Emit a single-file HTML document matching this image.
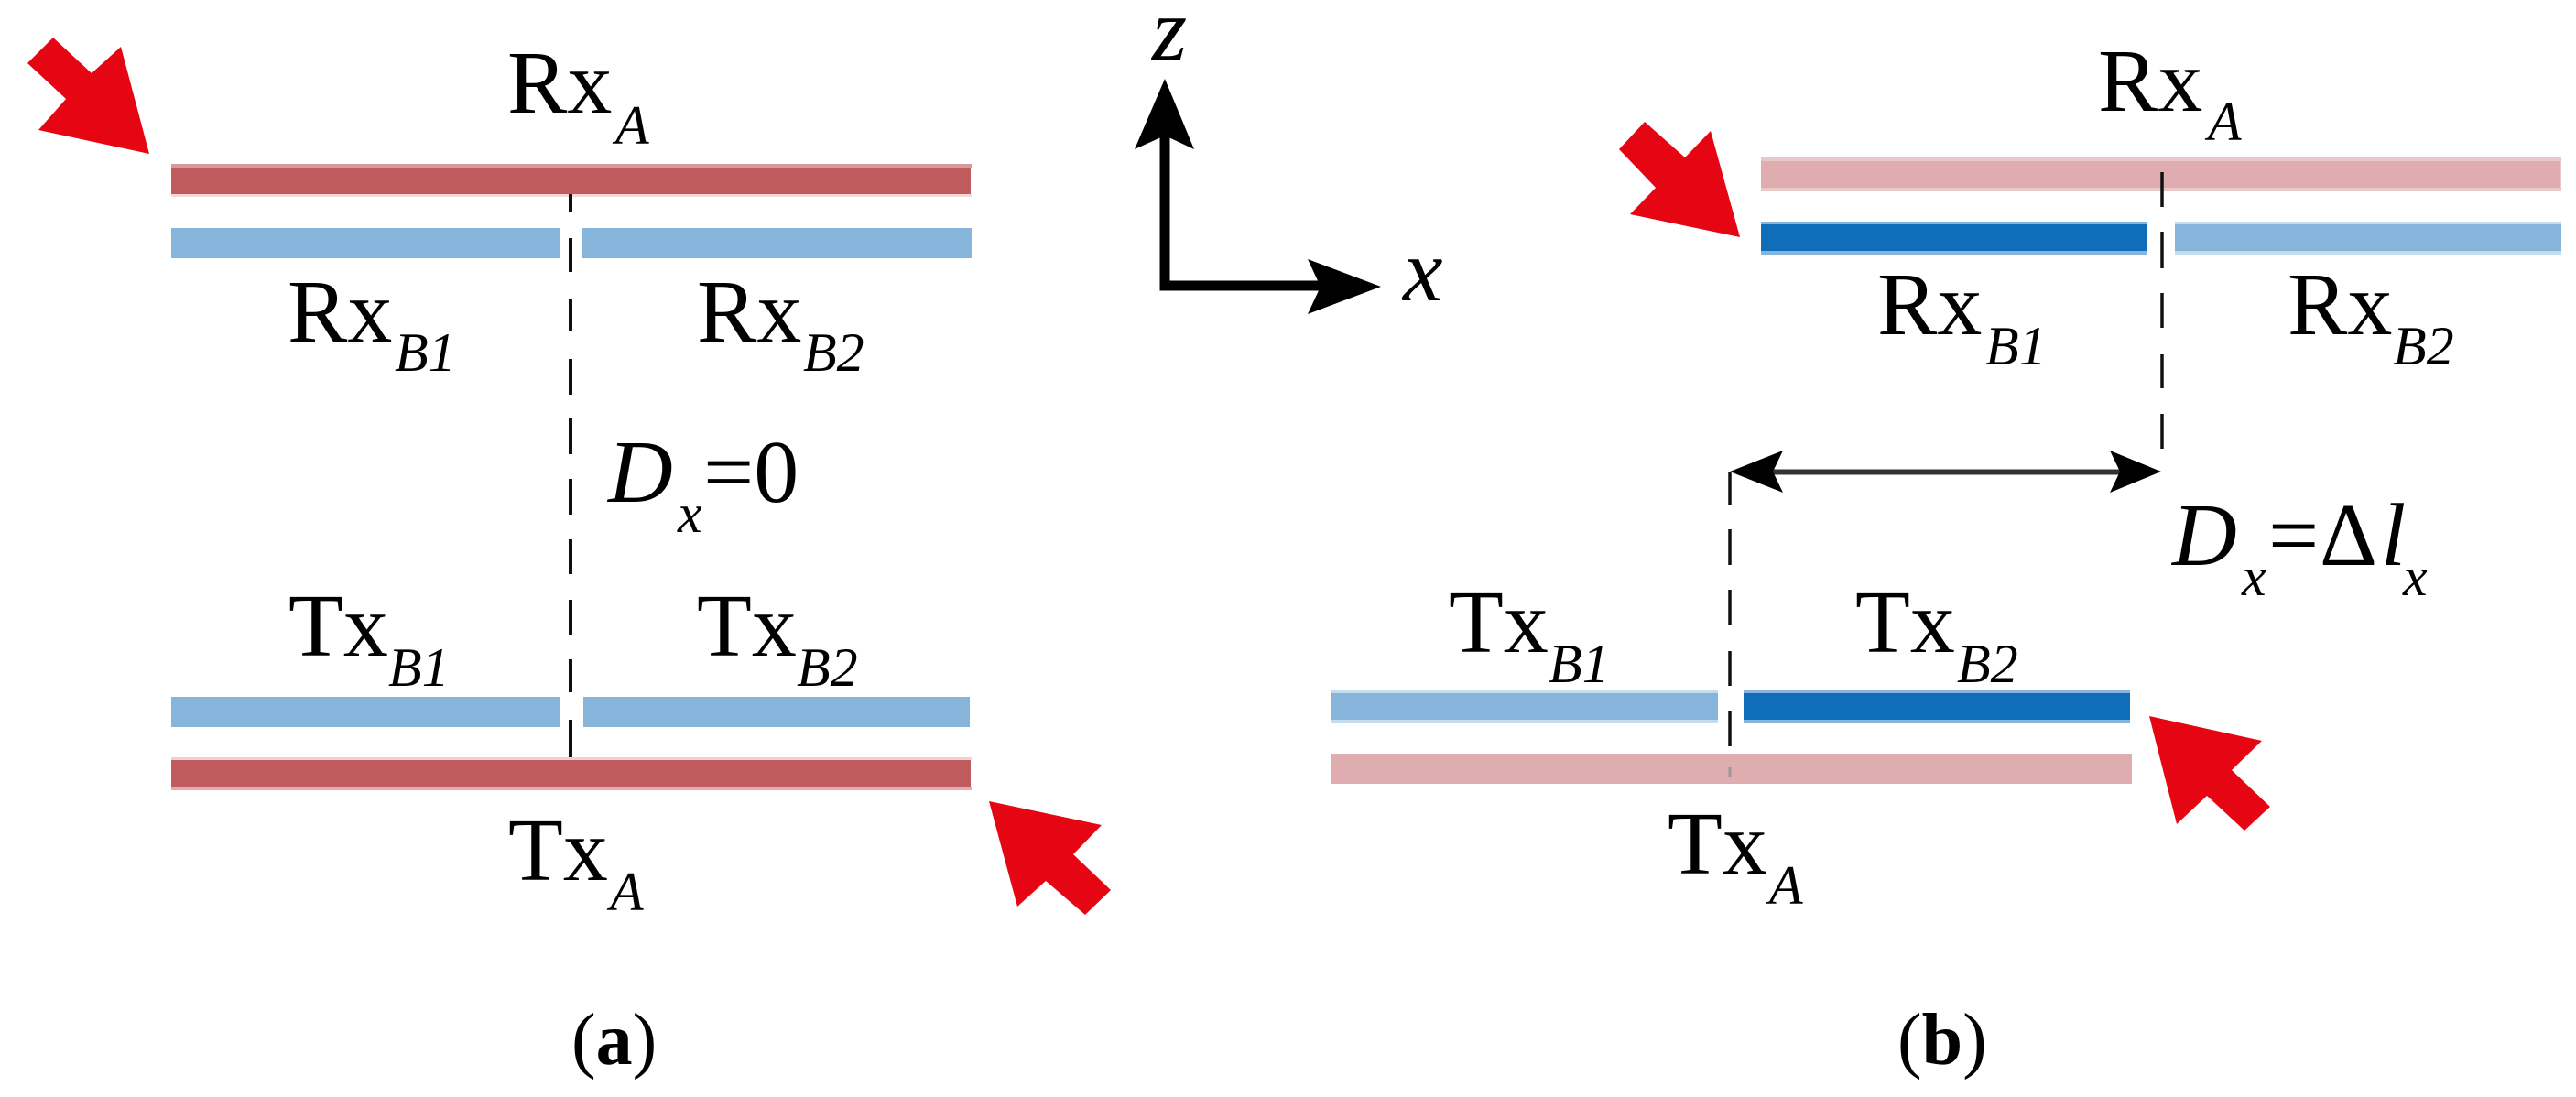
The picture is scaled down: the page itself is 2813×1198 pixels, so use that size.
<!DOCTYPE html>
<html><head><meta charset="utf-8"><style>
html,body{margin:0;padding:0;background:#fff;width:2813px;height:1198px;overflow:hidden}
svg{display:block}
text{font-family:"Liberation Serif",serif;fill:#000}
.m{font-size:98px}
.s{font-size:60px;font-style:italic}
.i{font-size:98px;font-style:italic}
.c{font-size:80px}
.b{font-weight:bold}
</style></head><body>
<svg width="2813" height="1198" viewBox="0 0 2813 1198" xmlns="http://www.w3.org/2000/svg">
<rect width="2813" height="1198" fill="#fff"/>

<!-- (a) bars -->
<rect x="187" y="179" width="874" height="4" fill="#d49a9c"/>
<rect x="187" y="212" width="874" height="3" fill="#f3d9da"/>
<rect x="187" y="183" width="873" height="29" fill="#c05c5e"/>
<rect x="187" y="249" width="424" height="33" fill="#87b4db"/>
<rect x="636" y="249" width="425" height="33" fill="#87b4db"/>
<rect x="187" y="761" width="424" height="33" fill="#87b4db"/>
<rect x="637" y="761" width="422" height="33" fill="#87b4db"/>
<rect x="187" y="827" width="874" height="3" fill="#f0d0d1"/>
<rect x="187" y="859" width="874" height="4" fill="#dfadaf"/>
<rect x="187" y="830" width="873" height="29" fill="#c05c5e"/>
<path d="M623 212V232M623 260V297M623 326V362M623 392V431M623 457V496M623 523V562M623 589V627M623 655V693M623 720V756M623 786V827" stroke="#111" stroke-width="4" fill="none"/>
<polygon points="58,41 100,80 132,51 163,168 42,142 72,108 30,69" fill="#e60613"/>
<polygon points="1080,875 1203,901 1172,933 1213,972 1185,999 1142,962 1111,990" fill="#e60613"/>

<text class="m" x="554" y="123">Rx</text><text class="s" x="672" y="157">A</text>
<text class="m" x="314" y="373">Rx</text><text class="s" x="431" y="405">B1</text>
<text class="m" x="761" y="373">Rx</text><text class="s" x="877" y="405">B2</text>
<text class="i" x="664" y="548">D</text><text class="s" x="740" y="581">x</text><text class="m" x="768" y="548">=0</text>
<text class="m" x="315" y="716">Tx</text><text class="s" x="424" y="749">B1</text>
<text class="m" x="761" y="716">Tx</text><text class="s" x="870" y="749">B2</text>
<text class="m" x="555" y="961">Tx</text><text class="s" x="666" y="994">A</text>
<text class="c" x="624" y="1162">(<tspan class="b">a</tspan>)</text>

<!-- axes -->
<path d="M1272 145V312" stroke="#000" stroke-width="11" fill="none"/>
<path d="M1266.500 312H1450" stroke="#000" stroke-width="11" fill="none"/>
<polygon points="1272,86 1304,163 1272,148 1239,163" fill="#000"/>
<polygon points="1508,313 1428,343 1442,313 1428,283" fill="#000"/>
<text class="i" x="1258" y="65">z</text>
<text class="i" x="1532" y="328">x</text>

<!-- (b) bars -->
<rect x="1923" y="172" width="874" height="37" fill="#e9c8ca"/>
<rect x="1923" y="176" width="873" height="29" fill="#dfadaf"/>
<rect x="1923" y="242" width="422" height="36" fill="#87b4db"/>
<rect x="1923" y="245" width="422" height="29" fill="#0f6eb7"/>
<rect x="2375" y="242" width="422" height="36" fill="#c5dbee"/>
<rect x="2375" y="245" width="422" height="29" fill="#87b4db"/>
<rect x="1454" y="753" width="422" height="37" fill="#c5dbee"/>
<rect x="1454" y="757" width="422" height="29" fill="#87b4db"/>
<rect x="1904" y="753" width="422" height="37" fill="#87b4db"/>
<rect x="1904" y="757" width="422" height="29" fill="#0f6eb7"/>
<rect x="1454" y="823" width="874" height="33" fill="#dfadaf"/>
<path d="M2361 188V226M2361 253V293M2361 320V358M2361 387V424M2361 452V490" stroke="#111" stroke-width="3.5" fill="none"/>
<path d="M1889 515V551M1889 578V617M1889 644V682M1889 711V749M1889 777V815" stroke="#111" stroke-width="3.5" fill="none"/>
<path d="M1889 838V848" stroke="#999" stroke-width="3" fill="none"/>
<path d="M1930 515.5H2320" stroke="#333" stroke-width="6" fill="none"/>
<polygon points="1889,515 1947,492 1936,515 1947,538" fill="#000"/>
<polygon points="2360,515 2304,492 2315,515 2304,538" fill="#000"/>
<polygon points="1796,133 1840,172 1868,143 1900,259 1780,234 1808,205 1768,163" fill="#e60613"/>
<polygon points="2347,782 2470,809 2437,841 2479,881 2451,907 2410,869 2377,900" fill="#e60613"/>

<text class="m" x="2291" y="121">Rx</text><text class="s" x="2411" y="153">A</text>
<text class="m" x="2050" y="365">Rx</text><text class="s" x="2168" y="398">B1</text>
<text class="m" x="2498" y="365">Rx</text><text class="s" x="2613" y="398">B2</text>
<text class="i" x="2372" y="617">D</text><text class="s" x="2448" y="650">x</text><text class="m" x="2477" y="617">=</text><text class="m" x="2533" y="617">Δ</text><text class="i" x="2600" y="617">l</text><text class="s" x="2624" y="650">x</text>
<text class="m" x="1582" y="712">Tx</text><text class="s" x="1691" y="745">B1</text>
<text class="m" x="2026" y="712">Tx</text><text class="s" x="2137" y="745">B2</text>
<text class="m" x="1821" y="954">Tx</text><text class="s" x="1932" y="987">A</text>
<text class="c" x="2072" y="1162">(<tspan class="b">b</tspan>)</text>
</svg>
</body></html>
